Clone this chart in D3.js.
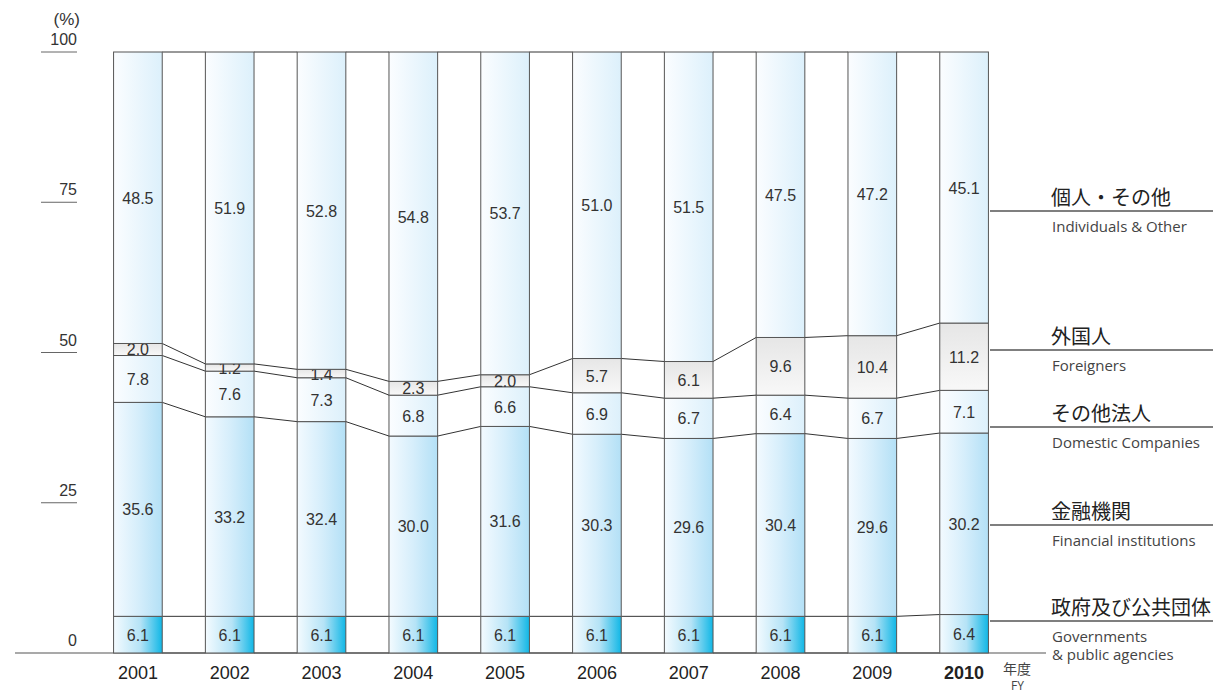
<!DOCTYPE html>
<html>
<head>
<meta charset="UTF-8">
<title>所有者別株式分布</title>
<style>
body { margin: 0; background: #fff; }
svg { display: block; }
.seg { stroke: #555; stroke-width: 1; }
.conn { fill: none; stroke: #333; stroke-width: 1; }
.val { font-family: "Liberation Sans", Arial, sans-serif; font-size: 16px; fill: #333; text-anchor: middle; }
.tick text { font-family: "Liberation Sans", Arial, sans-serif; font-size: 16px; fill: #333; }
.year { font-family: "Liberation Sans", Arial, sans-serif; font-size: 18px; fill: #222; text-anchor: middle; }
.jp { font-family: "Noto Sans CJK JP", sans-serif; font-size: 20px; fill: #222; }
.en { font-family: "Open Sans", Lato, sans-serif; font-size: 15px; fill: #444; }
</style>
</head>
<body>
<svg></svg>
<script src="https://d3js.org/d3.v7.min.js"></script>
<script>

var years = ["2001", "2002", "2003", "2004", "2005", "2006", "2007", "2008", "2009", "2010"];

// bottom to top
var government = [6.1, 6.1, 6.1, 6.1, 6.1, 6.1, 6.1, 6.1, 6.1, 6.4];
var financial  = [35.6, 33.2, 32.4, 30.0, 31.6, 30.3, 29.6, 30.4, 29.6, 30.2];
var domestic   = [7.8, 7.6, 7.3, 6.8, 6.6, 6.9, 6.7, 6.4, 6.7, 7.1];
var foreign    = [2.0, 1.2, 1.4, 2.3, 2.0, 5.7, 6.1, 9.6, 10.4, 11.2];
var individual = [48.5, 51.9, 52.8, 54.8, 53.7, 51.0, 51.5, 47.5, 47.2, 45.1];

var keys = ["gov", "fin", "dom", "for", "ind"];
var yTicks = [0, 25, 50, 75, 100];

var legend = [
  { jp: "個人・その他", en: ["Individuals & Other"], y: 211 },
  { jp: "外国人", en: ["Foreigners"], y: 350 },
  { jp: "その他法人", en: ["Domestic Companies"], y: 427 },
  { jp: "金融機関", en: ["Financial institutions"], y: 525 },
  { jp: "政府及び公共団体", en: ["Governments", "& public agencies"], y: 621 }
];

var rows = years.map(function (y, i) {
  return { year: y, gov: government[i], fin: financial[i], dom: domestic[i], "for": foreign[i], ind: individual[i] };
});

var width = 1218, height = 694;
var svg = d3.select("svg").attr("width", width).attr("height", height);

var x = d3.scaleBand().domain(years).range([92, 1010]).paddingInner(0.47).paddingOuter(0.235);
var y = d3.scaleLinear().domain([0, 100]).range([653, 52]);

var defs = svg.append("defs");
function hgrad(id, stops) {
  var g = defs.append("linearGradient").attr("id", id).attr("x1", 0).attr("x2", 1).attr("y1", 0).attr("y2", 0);
  stops.forEach(function (s) { g.append("stop").attr("offset", s[0]).attr("stop-color", s[1]); });
}
hgrad("g-ind", [[0, "#fbfdff"], [1, "#dcf0fb"]]);
hgrad("g-dom", [[0, "#fbfdff"], [1, "#dcf0fb"]]);
hgrad("g-fin", [[0, "#f3faff"], [0.5, "#d6eefb"], [1, "#b3e0f6"]]);
hgrad("g-gov", [[0, "#f4fbff"], [0.55, "#b5e3f6"], [1, "#10b7e6"]]);
var gg = defs.append("linearGradient").attr("id", "g-for").attr("x1", 0).attr("x2", 0).attr("y1", 0).attr("y2", 1);
gg.append("stop").attr("offset", 0).attr("stop-color", "#e6e6e6");
gg.append("stop").attr("offset", 1).attr("stop-color", "#f8f8f8");

var stack = d3.stack().keys(keys)(rows);

// connectors between bars
var conn = svg.append("g");
var levels = stack.map(function (s) { return s.map(function (d) { return d[1]; }); });
levels.unshift(rows.map(function () { return 0; }));
levels.forEach(function (lv) {
  for (var i = 0; i < years.length - 1; i++) {
    conn.append("line").attr("class", "conn")
      .attr("x1", x(years[i]) + x.bandwidth()).attr("y1", y(lv[i]))
      .attr("x2", x(years[i + 1])).attr("y2", y(lv[i + 1]));
  }
});

// baseline
svg.append("line").attr("x1", 15).attr("x2", 1046).attr("y1", y(0)).attr("y2", y(0))
  .attr("stroke", "#555").attr("stroke-width", 1.2);

// segments
var layer = svg.selectAll(".layer").data(stack).enter().append("g").attr("class", "layer");
layer.selectAll("rect").data(function (s) { return s.map(function (d) { d.key = s.key; return d; }); })
  .enter().append("rect").attr("class", "seg")
  .attr("x", function (d) { return x(d.data.year); })
  .attr("width", x.bandwidth())
  .attr("y", function (d) { return y(d[1]); })
  .attr("height", function (d) { return y(d[0]) - y(d[1]); })
  .attr("fill", function (d) { return "url(#g-" + d.key + ")"; });

layer.selectAll("text").data(function (s) { return s; })
  .enter().append("text").attr("class", "val")
  .attr("x", function (d) { return x(d.data.year) + x.bandwidth() / 2; })
  .attr("y", function (d) { return y((d[0] + d[1]) / 2) + 6; })
  .text(function (d) { return d3.format(".1f")(d[1] - d[0]); });

// y axis
var yax = svg.append("g");
yTicks.forEach(function (t) {
  var g = yax.append("g").attr("class", "tick");
  if (t > 0) {
    g.append("line").attr("x1", 41).attr("x2", 77).attr("y1", y(t)).attr("y2", y(t))
      .attr("stroke", "#666").attr("stroke-width", 1);
  }
  g.append("text").attr("x", 77).attr("y", y(t) - 7).attr("text-anchor", "end").text(t);
});
svg.append("text").attr("x", 80).attr("y", 25).attr("text-anchor", "end")
  .style("font-family", "Liberation Sans, Arial, sans-serif").style("font-size", "17px").style("fill", "#333").text("(%)");

// year labels
svg.selectAll(".year").data(years).enter().append("text").attr("class", "year")
  .attr("x", function (d) { return x(d) + x.bandwidth() / 2; })
  .attr("y", 679)
  .style("font-weight", function (d) { return d === "2010" ? "bold" : null; })
  .text(function (d) { return d; });
svg.append("text").attr("class", "jp").attr("x", 1003).attr("y", 674).style("font-size", "14px").style("fill", "#444").text("年度");
svg.append("text").attr("class", "en").attr("x", 1011).attr("y", 690).style("font-size", "12px").text("FY");

// legend
var lg = svg.selectAll(".lg").data(legend).enter().append("g").attr("class", "lg");
lg.append("line").attr("x1", 990).attr("x2", 1213)
  .attr("y1", function (d) { return d.y; }).attr("y2", function (d) { return d.y; })
  .attr("stroke", "#555").attr("stroke-width", 1.3);
lg.append("text").attr("class", "jp").attr("x", 1051).attr("y", function (d) { return d.y - 6; })
  .text(function (d) { return d.jp; });
lg.each(function (d) {
  var g = d3.select(this);
  d.en.forEach(function (t, i) {
    g.append("text").attr("class", "en").attr("x", 1052).attr("y", d.y + 21 + i * 18).text(t);
  });
});

</script>
</body>
</html>
